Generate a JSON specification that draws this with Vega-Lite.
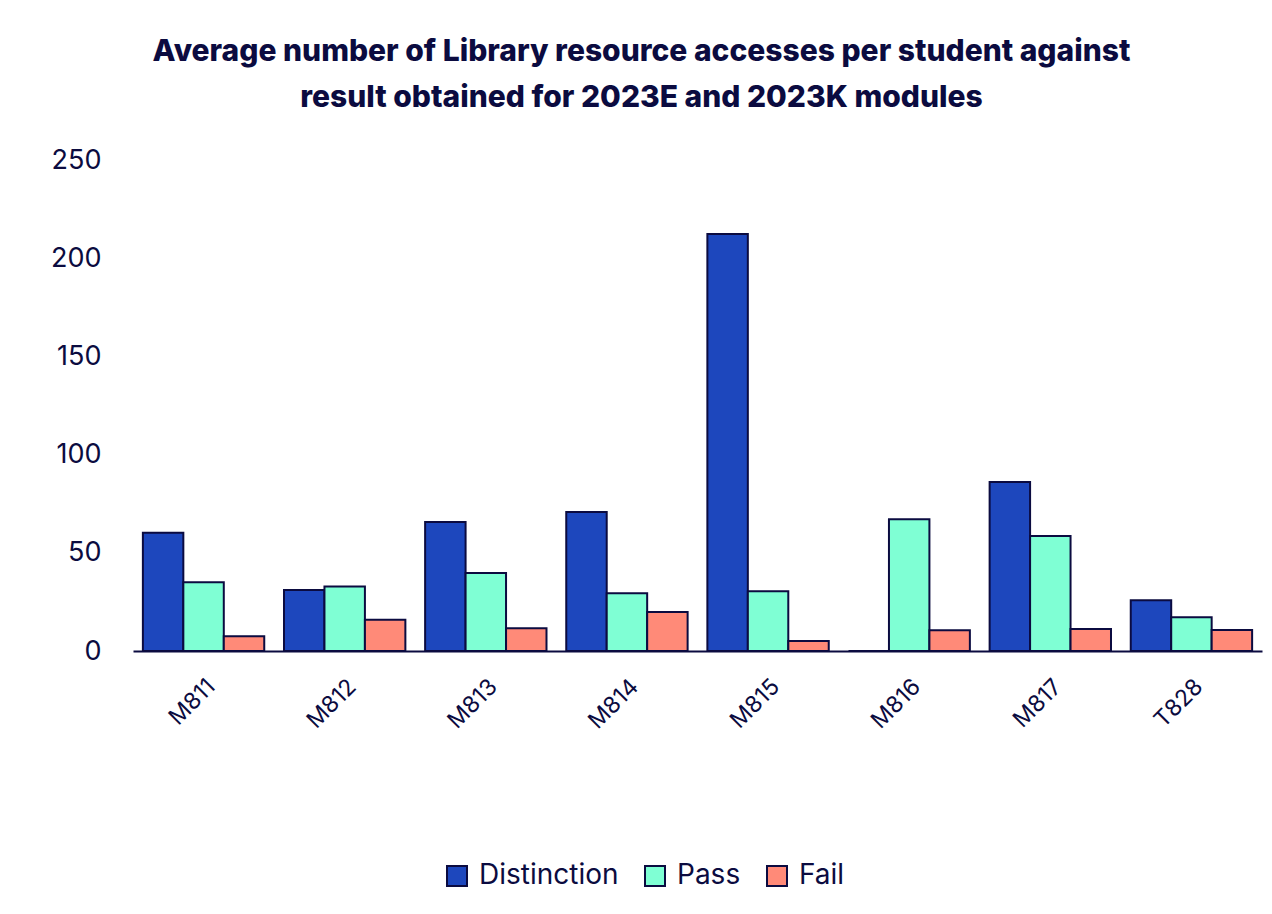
{
  "$schema": "https://vega.github.io/schema/vega-lite/v6.json",
  "width": 1129,
  "height": 491,
  "padding": {"left": 50, "top": 37, "right": 10, "bottom": 10},
  "background": "white",
  "title": {
    "text": ["Average number of Library resource accesses per student against", "result obtained for 2023E and 2023K modules"],
    "font": "Inter",
    "fontSize": 30,
    "fontWeight": 800,
    "lineHeight": 46,
    "color": "#0b0b40",
    "anchor": "middle",
    "dx": -56,
    "offset": 33
  },
  "data": {
    "values": [
      {"module": "M811", "result": "Distinction", "value": 60.2},
      {"module": "M811", "result": "Pass", "value": 35.0},
      {"module": "M811", "result": "Fail", "value": 7.5},
      {"module": "M812", "result": "Distinction", "value": 31.1},
      {"module": "M812", "result": "Pass", "value": 32.9},
      {"module": "M812", "result": "Fail", "value": 15.9},
      {"module": "M813", "result": "Distinction", "value": 65.7},
      {"module": "M813", "result": "Pass", "value": 39.7},
      {"module": "M813", "result": "Fail", "value": 11.6},
      {"module": "M814", "result": "Distinction", "value": 70.8},
      {"module": "M814", "result": "Pass", "value": 29.4},
      {"module": "M814", "result": "Fail", "value": 19.9},
      {"module": "M815", "result": "Distinction", "value": 212.3},
      {"module": "M815", "result": "Pass", "value": 30.4},
      {"module": "M815", "result": "Fail", "value": 5.1},
      {"module": "M816", "result": "Distinction", "value": 0},
      {"module": "M816", "result": "Pass", "value": 67.1},
      {"module": "M816", "result": "Fail", "value": 10.6},
      {"module": "M817", "result": "Distinction", "value": 86.0},
      {"module": "M817", "result": "Pass", "value": 58.6},
      {"module": "M817", "result": "Fail", "value": 11.2},
      {"module": "T828", "result": "Distinction", "value": 25.9},
      {"module": "T828", "result": "Pass", "value": 17.2},
      {"module": "T828", "result": "Fail", "value": 10.7}
    ]
  },
  "mark": {"type": "bar", "stroke": "#0b0b40", "strokeWidth": 2},
  "encoding": {
    "x": {
      "field": "module",
      "type": "nominal",
      "sort": null,
      "scale": {"paddingInner": 0.14, "paddingOuter": 0.07},
      "axis": {
        "title": null,
        "labelAngle": -45,
        "labelFont": "Inter",
        "labelFontSize": 23,
        "labelColor": "#0b0b40",
        "labelPadding": 24,
        "ticks": false,
        "domainColor": "#0b0b40",
        "domainWidth": 2,
        "grid": false
      }
    },
    "xOffset": {"field": "result", "type": "nominal", "sort": ["Distinction", "Pass", "Fail"]},
    "y": {
      "field": "value",
      "type": "quantitative",
      "scale": {"domain": [0, 250], "nice": false},
      "axis": {
        "title": null,
        "values": [0, 50, 100, 150, 200, 250],
        "domain": false,
        "ticks": false,
        "grid": false,
        "labelFont": "Inter",
        "labelFontSize": 27,
        "labelColor": "#0b0b40",
        "labelPadding": 32
      }
    },
    "color": {
      "field": "result",
      "type": "nominal",
      "sort": ["Distinction", "Pass", "Fail"],
      "scale": {"domain": ["Distinction", "Pass", "Fail"], "range": ["#1d47bd", "#7fffd4", "#ff8a78"]},
      "legend": {
        "title": null,
        "orient": "none",
        "direction": "horizontal",
        "legendX": 310,
        "legendY": 702,
        "symbolType": "square",
        "symbolSize": 400,
        "symbolStrokeColor": "#0b0b40",
        "symbolStrokeWidth": 2,
        "labelFont": "Inter",
        "labelFontSize": 28,
        "labelColor": "#0b0b40",
        "labelOffset": 8,
        "columnPadding": 22
      }
    }
  },
  "config": {"view": {"stroke": null}}
}
